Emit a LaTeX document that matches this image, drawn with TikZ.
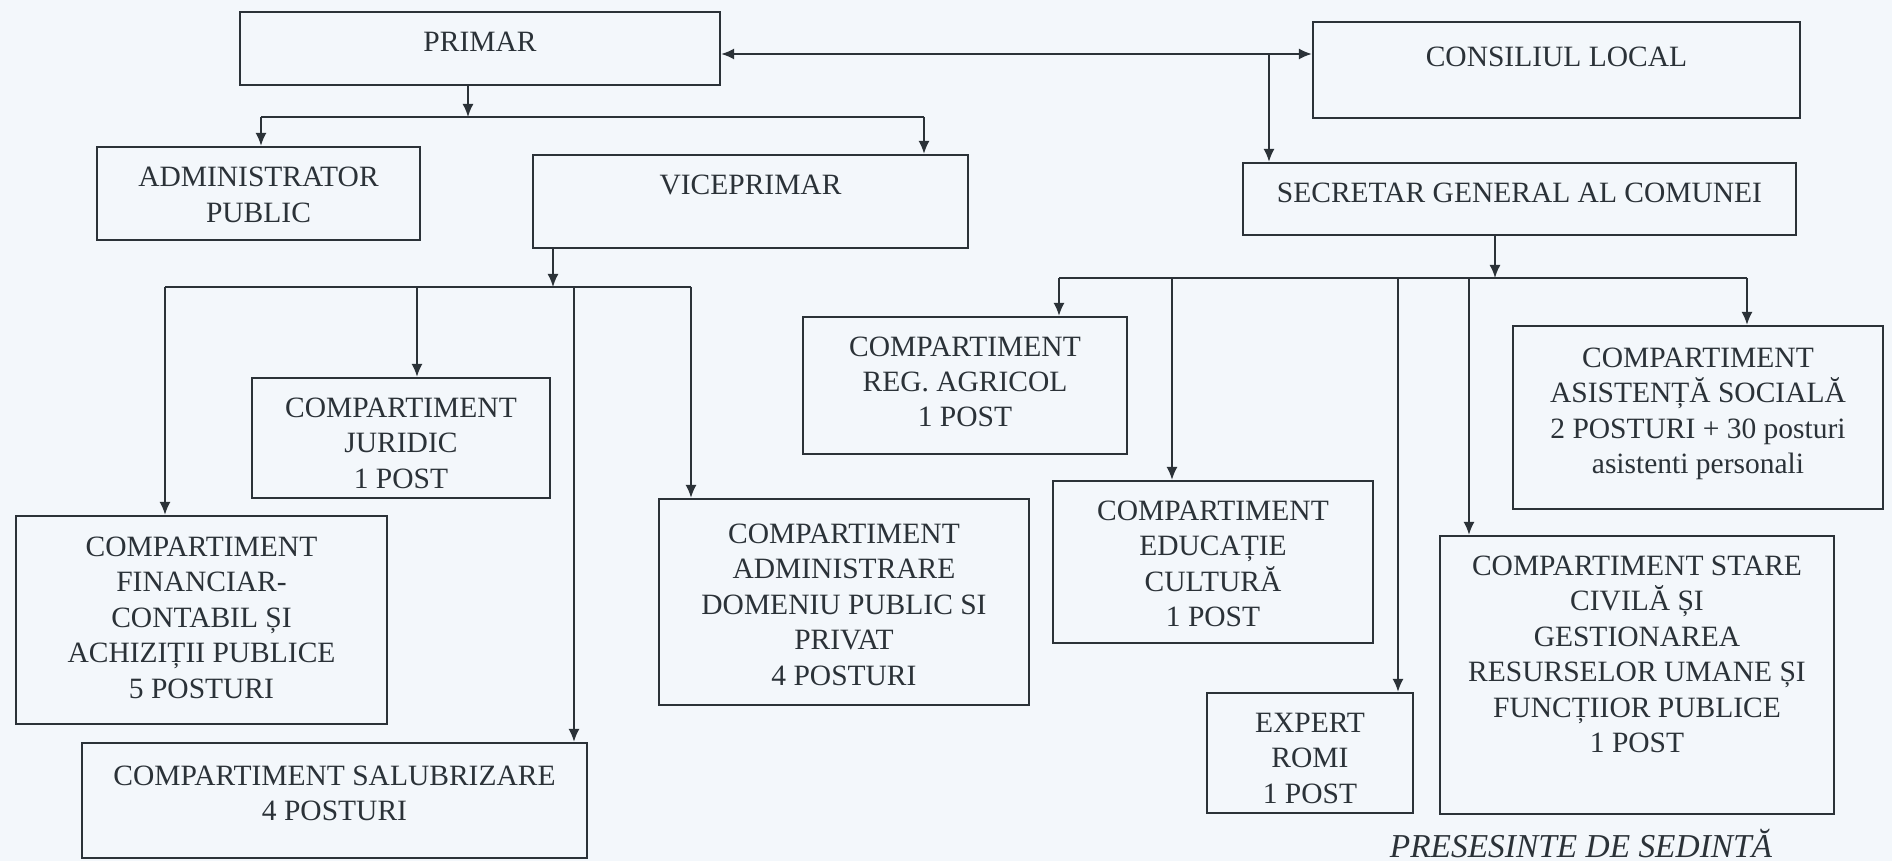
\documentclass[tikz,border=0pt]{standalone}
\usepackage{fontspec}
\setmainfont{Liberation Serif}
\usetikzlibrary{arrows.meta}
\definecolor{bgc}{HTML}{F3F7FB}
\definecolor{inkc}{HTML}{2B3238}
\tikzset{
  box/.style={draw=inkc, line width=1.1pt, inner sep=0pt, align=center, text=inkc,
    font=\fontsize{14.75}{17.75}\selectfont},
  conn/.style={draw=inkc, line width=0.9pt},
  arr/.style={conn, -{Latex[length=6.5pt,width=5.5pt]}},
  arrb/.style={conn, {Latex[length=6.5pt,width=5.5pt]}-{Latex[length=6.5pt,width=5.5pt]}},
}
\begin{document}
\begin{tikzpicture}[x=0.5pt,y=-0.5pt]
\fill[bgc] (0,0) rectangle (1892,861);
\useasboundingbox (0,0) rectangle (1892,861);

% boxes
\node[box, minimum width=240pt, minimum height=36.5pt, text height=3.5pt, text depth=0pt] (primar) at (480,48.5) {PRIMAR};
\node[box, minimum width=243.5pt, minimum height=48pt, text height=0pt, text depth=3pt] (consiliu) at (1556.5,70) {CONSILIUL LOCAL};
\node[box, minimum width=161.5pt, minimum height=46.5pt, text height=29pt, text depth=0pt] (admin) at (258.5,193.5) {ADMINISTRATOR\\PUBLIC};
\node[box, minimum width=217.5pt, minimum height=46.5pt, text height=0pt, text depth=6.5pt] (vice) at (750.5,201.5) {VICEPRIMAR};
\node[box, minimum width=276.5pt, minimum height=36pt, text height=4pt, text depth=0pt] (secretar) at (1519.5,199) {SECRETAR GENERAL AL COMUNEI};
\node[box, minimum width=149pt, minimum height=60pt, text height=50pt, text depth=0pt] (juridic) at (401,438) {COMPARTIMENT\\JURIDIC\\1 POST};
\node[box, minimum width=185.5pt, minimum height=104pt, text height=78pt, text depth=0pt] (financiar) at (201.5,620) {COMPARTIMENT\\FINANCIAR-\\CONTABIL ȘI\\ACHIZIȚII PUBLICE\\5 POSTURI};
\node[box, minimum width=252.5pt, minimum height=57.5pt, text height=20pt, text depth=0pt] (salub) at (334.5,800.5) {COMPARTIMENT SALUBRIZARE\\4 POSTURI};
\node[box, minimum width=185pt, minimum height=103pt, text height=83pt, text depth=0pt] (domeniu) at (844,602) {COMPARTIMENT\\ADMINISTRARE\\DOMENIU PUBLIC SI\\PRIVAT\\4 POSTURI};
\node[box, minimum width=162pt, minimum height=68.5pt, text height=41.5pt, text depth=0pt] (agricol) at (965,385.5) {COMPARTIMENT\\REG. AGRICOL\\1 POST};
\node[box, minimum width=160pt, minimum height=81pt, text height=64.5pt, text depth=0pt] (educatie) at (1213,562) {COMPARTIMENT\\EDUCAȚIE\\CULTURĂ\\1 POST};
\node[box, minimum width=185pt, minimum height=91.5pt, text height=56pt, text depth=0pt] (asistenta) at (1698,417.5) {COMPARTIMENT\\ASISTENȚĂ SOCIALĂ\\2 POSTURI + 30 posturi\\asistenti personali};
\node[box, minimum width=197pt, minimum height=139pt, text height=77.5pt, text depth=0pt] (stare) at (1637,675) {COMPARTIMENT STARE\\CIVILĂ ȘI\\GESTIONAREA\\RESURSELOR UMANE ȘI\\FUNCȚIIOR PUBLICE\\1 POST};
\node[box, minimum width=103pt, minimum height=60pt, text height=50pt, text depth=0pt] (expert) at (1310,753) {EXPERT\\ROMI\\1 POST};

\node[text=inkc, anchor=base, inner sep=0pt, font=\fontsize{16.7}{20}\selectfont\itshape] (pres) at (1581,857) {PRESESINTE DE SEDINTĂ};

% junction points
\coordinate (t1) at (1269,54);
\coordinate (pj) at (468,117);
\coordinate (b1l) at (261,117);
\coordinate (b1r) at (924,117);
\coordinate (vj) at (553,287);
\coordinate (b2a) at (165,287);
\coordinate (b2b) at (417,287);
\coordinate (b2c) at (574,287);
\coordinate (b2d) at (691,287);
\coordinate (sj) at (1495,278);
\coordinate (b3a) at (1059,278);
\coordinate (b3b) at (1172,278);
\coordinate (b3c) at (1398,278);
\coordinate (b3d) at (1469,278);
\coordinate (b3e) at (1747,278);

% top level
\draw[arrb] (primar.east |- t1) -- (consiliu.west |- t1);
\draw[arr] (t1) -- (t1 |- secretar.north);

% primar branch
\draw[arr] (primar.south -| pj) -- (pj);
\draw[conn] (b1l) -- (b1r);
\draw[arr] (b1l) -- (b1l |- admin.north);
\draw[arr] (b1r) -- (b1r |- vice.north);

% viceprimar branch
\draw[arr] (vice.south -| vj) -- (vj);
\draw[conn] (b2a) -- (b2d);
\draw[arr] (b2a) -- (b2a |- financiar.north);
\draw[arr] (b2b) -- (b2b |- juridic.north);
\draw[arr] (b2c) -- (b2c |- salub.north);
\draw[arr] (b2d) -- (b2d |- domeniu.north);

% secretar branch
\draw[arr] (secretar.south -| sj) -- (sj);
\draw[conn] (b3a) -- (b3e);
\draw[arr] (b3a) -- (b3a |- agricol.north);
\draw[arr] (b3b) -- (b3b |- educatie.north);
\draw[arr] (b3c) -- (b3c |- expert.north);
\draw[arr] (b3d) -- (b3d |- stare.north);
\draw[arr] (b3e) -- (b3e |- asistenta.north);
\end{tikzpicture}
\end{document}
